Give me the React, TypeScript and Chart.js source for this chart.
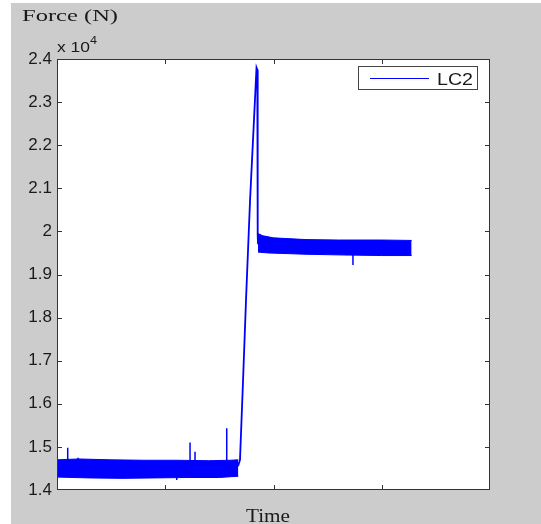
import React, { useEffect, useRef } from "react";
import { Chart, registerables } from "chart.js";

Chart.register(...registerables);

// ---- Data (time in arbitrary units across 4 grid intervals, force in N) ----
const xTickValues = [1, 2, 3];
const yTickLabels = ["1.4", "1.5", "1.6", "1.7", "1.8", "1.9", "2", "2.1", "2.2", "2.3", "2.4"];

// Noisy low-load band (upper / lower envelope)
const baselineUpper: [number, number][] = [
  [0, 14700], [0.2, 14720], [0.5, 14700], [0.8, 14690], [1.1, 14690],
  [1.4, 14680], [1.6, 14690], [1.675, 14700],
];
const baselineLower: [number, number][] = [
  [0, 14300], [0.3, 14280], [0.6, 14270], [0.9, 14280], [1.2, 14290],
  [1.5, 14290], [1.675, 14320],
];

// Noisy high-load band after the peak (upper / lower envelope)
const plateauUpper: [number, number][] = [
  [1.857, 19950], [1.9, 19900], [2.0, 19850], [2.3, 19810], [2.6, 19800],
  [3.0, 19800], [3.276, 19790],
];
const plateauLower: [number, number][] = [
  [1.857, 19520], [1.95, 19500], [2.3, 19470], [2.7, 19450], [3.0, 19440],
  [3.276, 19440],
];

// Loading ramp, peak and drop
const rampTrace: [number, number][] = [
  [1.672, 14550], [1.6905, 14700], [1.718, 16500], [1.746, 18400], [1.783, 20700],
  [1.82, 22600], [1.843, 23800], [1.8503, 23750], [1.854, 19900], [1.857, 19700],
];

// Isolated spikes / dips: [time, from, to]
const spikes: [number, number, number][] = [
  [0.099, 14500, 14980], [0.194, 14500, 14750], [1.106, 14300, 14230],
  [1.229, 14500, 15100], [1.275, 14500, 14890], [1.568, 14500, 15430],
  [2.734, 19450, 19220],
];

const BLUE = "#0000ff";
const TEXT = "#1a1a1a";
const SANS = "'Liberation Sans', Arial, sans-serif";
const SERIF = "'Liberation Serif', 'Times New Roman', serif";

const toPts = (arr: [number, number][]) => arr.map(([x, y]) => ({ x, y }));

function fitText(
  ctx: CanvasRenderingContext2D, text: string, x: number, y: number,
  font: string, width: number, align: "left" | "center", color: string
) {
  ctx.save();
  ctx.font = font;
  ctx.fillStyle = color;
  ctx.textAlign = "left";
  ctx.textBaseline = "alphabetic";
  const w = ctx.measureText(text).width || 1;
  const left = align === "center" ? x - width / 2 : x;
  ctx.translate(left, y);
  ctx.scale(width / w, 1);
  ctx.fillText(text, 0, 0);
  ctx.restore();
}

const decorPlugin = {
  id: "matlabDecor",
  beforeDraw(chart: any) {
    const { ctx, width, height, chartArea } = chart;
    ctx.save();
    ctx.fillStyle = "#ffffff";
    ctx.fillRect(0, 0, width, height);
    ctx.fillStyle = "#cccccc";
    ctx.fillRect(11, 3, width - 11, height - 3);
    ctx.fillStyle = "#ffffff";
    ctx.fillRect(chartArea.left, chartArea.top, chartArea.right - chartArea.left, chartArea.bottom - chartArea.top);
    ctx.restore();
  },
  afterDraw(chart: any) {
    const { ctx, chartArea } = chart;
    const { left, right, top, bottom } = chartArea;
    const xs = chart.scales.x;
    const ys = chart.scales.y;
    ctx.save();
    ctx.strokeStyle = "#333333";
    ctx.lineWidth = 1;
    ctx.strokeRect(left + 0.5, top + 0.5, right - left - 1, bottom - top - 1);
    ctx.beginPath();
    const tl = 5;
    ys.ticks.forEach((t: any) => {
      const py = Math.round(ys.getPixelForValue(t.value)) + 0.5;
      if (py <= top + 1 || py >= bottom - 1) return;
      ctx.moveTo(left, py); ctx.lineTo(left + tl, py);
      ctx.moveTo(right, py); ctx.lineTo(right - tl, py);
    });
    xTickValues.forEach((v) => {
      const px = Math.round(xs.getPixelForValue(v)) + 0.5;
      ctx.moveTo(px, bottom); ctx.lineTo(px, bottom - tl);
      ctx.moveTo(px, top); ctx.lineTo(px, top + tl);
    });
    ctx.stroke();

    // legend
    ctx.fillStyle = "#ffffff";
    ctx.fillRect(358.5, 66.5, 119, 23);
    ctx.strokeStyle = "#444444";
    ctx.strokeRect(358.5, 66.5, 119, 23);
    ctx.strokeStyle = BLUE;
    ctx.beginPath();
    ctx.moveTo(370, 78.5); ctx.lineTo(429, 78.5);
    ctx.stroke();
    ctx.restore();

    fitText(ctx, "LC2", 437, 85, `17px ${SANS}`, 36, "left", TEXT);
    fitText(ctx, "Force (N)", 22, 21, `17px ${SERIF}`, 96, "left", TEXT);
    fitText(ctx, "x 10", 57, 52, `14px ${SANS}`, 33, "left", TEXT);
    fitText(ctx, "4", 90, 44, `11px ${SANS}`, 7, "left", TEXT);
    fitText(ctx, "Time", 268, 522, `18px ${SERIF}`, 44, "center", TEXT);
  },
};

export default function App() {
  const ref = useRef<HTMLCanvasElement | null>(null);

  useEffect(() => {
    if (!ref.current) return;
    const spikePts = spikes.flatMap(([x, a, b]) => [
      { x, y: a }, { x, y: b }, { x, y: null as any },
    ]);
    const band = { borderColor: BLUE, borderWidth: 1, pointRadius: 0 };
    const chart = new Chart(ref.current, {
      type: "line",
      data: {
        datasets: [
          { label: "baseLow", data: toPts(baselineLower), ...band, fill: false },
          { label: "baseHigh", data: toPts(baselineUpper), ...band, fill: "-1", backgroundColor: BLUE },
          { label: "plateauLow", data: toPts(plateauLower), ...band, fill: false },
          { label: "plateauHigh", data: toPts(plateauUpper), ...band, fill: "-1", backgroundColor: BLUE },
          { label: "LC2", data: toPts(rampTrace), borderColor: BLUE, borderWidth: 1.8, pointRadius: 0, fill: false },
          { label: "spikes", data: spikePts, borderColor: BLUE, borderWidth: 1.5, pointRadius: 0, fill: false, spanGaps: false },
        ] as any,
      },
      options: {
        animation: false,
        responsive: false,
        layout: { padding: { top: 59, right: 51, bottom: 0, left: 0 } },
        plugins: { legend: { display: false }, tooltip: { enabled: false } },
        elements: { line: { tension: 0 }, point: { radius: 0 } },
        scales: {
          x: {
            type: "linear",
            min: 0,
            max: 4,
            ticks: { display: false },
            grid: { display: false, drawTicks: false },
            border: { display: false },
            afterFit: (s: any) => { s.height = 34; },
          },
          y: {
            type: "linear",
            min: 14000,
            max: 24000,
            ticks: {
              stepSize: 1000,
              autoSkip: false,
              padding: 5,
              color: TEXT,
              font: { family: SANS, size: 17 },
              callback: (_v: any, i: number) => yTickLabels[i],
            },
            grid: { display: false, drawTicks: false },
            border: { display: false },
            afterFit: (s: any) => { s.width = 57; },
          },
        },
      } as any,
      plugins: [decorPlugin],
    });
    return () => chart.destroy();
  }, []);

  return (
    <div style={{ position: "fixed", left: 0, top: 0, width: 541, height: 524 }}>
      <canvas ref={ref} width={541} height={524} style={{ display: "block" }} />
    </div>
  );
}
